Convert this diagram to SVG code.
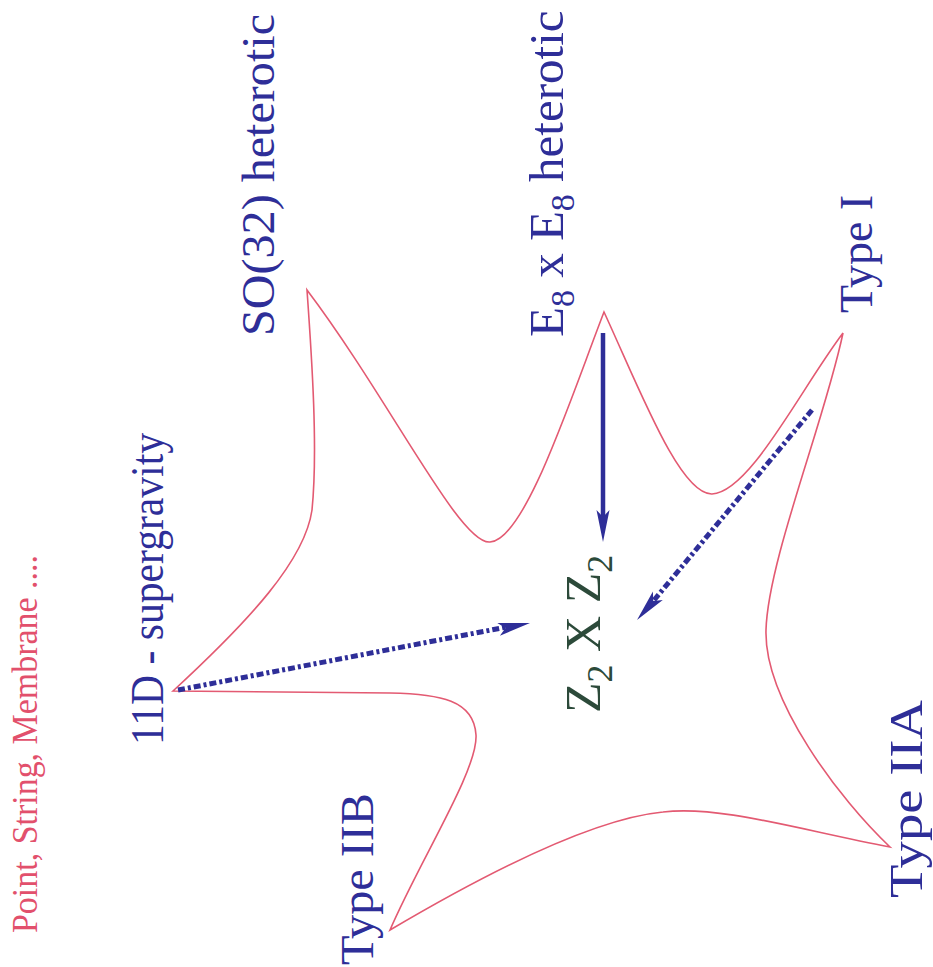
<svg xmlns="http://www.w3.org/2000/svg" width="933" height="967" viewBox="0 0 933 967">
<style>
.lbl{font-family:"Liberation Serif","Times New Roman",serif;fill:#2e2e98;font-size:46px}
.red{font-family:"Liberation Serif","Times New Roman",serif;fill:#e2506c;font-size:36px}
.grn{font-family:"Liberation Serif","Times New Roman",serif;fill:#2c4a3a;font-size:50px}
.curve{fill:none;stroke:#e35a72;stroke-width:1.6;stroke-linejoin:miter}
.dd{fill:none;stroke:#2e2e98;stroke-width:5;stroke-dasharray:7 3 3 3}
.solid{fill:none;stroke:#2e2e98;stroke-width:4.5}
.hd{fill:none;stroke:none}
</style>
<defs>
<marker id="ah" markerUnits="userSpaceOnUse" markerWidth="40" markerHeight="20" refX="0" refY="0" viewBox="-34 -10 40 20" orient="auto" overflow="visible">
<path d="M0,0 L-32,-6.5 L-25,0 L-32,6.5 Z" fill="#2e2e98"/>
</marker>
</defs>
<g id="caption"><text class="red" transform="translate(37,933) rotate(-90)" textLength="378" lengthAdjust="spacingAndGlyphs">Point, String, Membrane ....</text></g>
<g id="shape">
<path class="curve" d="M173,691 C250,620 305,560 312,510 C318,450 312,360 307,290 C390,400 460,545 490,542 C525,540 570,400 604,312 C640,390 680,495 712,494 C750,492 800,390 843,333 C825,420 768,560 766,630 C764,700 840,800 890,847 C800,830 720,805 663,812 C600,818 500,865 390,930 C420,860 478,770 476,735 C474,700 440,694 390,693 L173,691 Z"/>
</g>
<g id="n11D"><text class="lbl" transform="translate(163,745) rotate(-90)" textLength="312" lengthAdjust="spacingAndGlyphs">11D - supergravity</text></g>
<g id="nSO32"><text class="lbl" transform="translate(274,336) rotate(-90)" textLength="322" lengthAdjust="spacingAndGlyphs">SO(32) heterotic</text></g>
<g id="nE8"><text class="lbl" style="font-size:49px" transform="translate(563,337) rotate(-90)">E<tspan style="font-size:34px" dy="11">8</tspan><tspan dy="-11"> x E</tspan><tspan style="font-size:34px" dy="11">8</tspan><tspan dy="-11">  heterotic</tspan></text></g>
<g id="nTypeI"><text class="lbl" transform="translate(872,313) rotate(-90)">Type I</text></g>
<g id="nTypeIIA"><text class="lbl" transform="translate(922,898) rotate(-90)" textLength="198" lengthAdjust="spacingAndGlyphs">Type IIA</text></g>
<g id="nTypeIIB"><text class="lbl" transform="translate(373,965) rotate(-90)" textLength="172" lengthAdjust="spacingAndGlyphs">Type IIB</text></g>
<g id="nZ2"><text class="grn" transform="translate(600,713) rotate(-90)">Z<tspan font-size="36" dy="12">2</tspan><tspan dy="-12"> X Z</tspan><tspan font-size="36" dy="12">2</tspan></text></g>
<g id="connectors">
<path class="solid" d="M603,333 L603,520"/>
<path class="hd" d="M603,520 L603,542" marker-end="url(#ah)"/>
<path class="dd" d="M178,690 L512,626"/>
<path class="hd" d="M505,628 L530,623" marker-end="url(#ah)"/>
<path class="dd" d="M812,410 L650,605"/>
<path class="hd" d="M655,599 L637,620" marker-end="url(#ah)"/>
</g>
</svg>
